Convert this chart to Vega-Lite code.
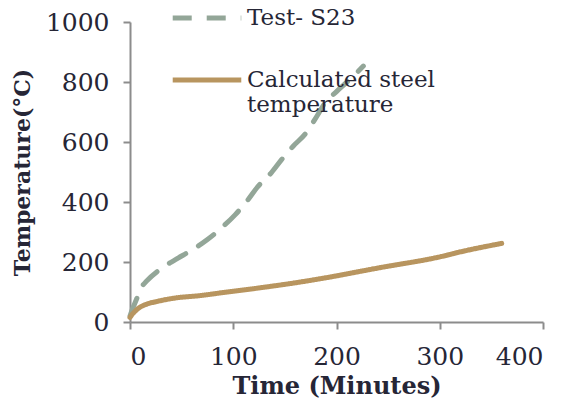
{
  "$schema": "https://vega.github.io/schema/vega-lite/v6.json",
  "width": 413,
  "height": 300,
  "autosize": {"type": "none"},
  "padding": {"left": 130, "top": 22, "right": 25, "bottom": 79},
  "background": "white",
  "config": {
    "font": "DejaVu Serif",
    "view": {"stroke": null},
    "axis": {
      "grid": false,
      "domainColor": "#8c8c8c",
      "domainWidth": 2,
      "tickColor": "#8c8c8c",
      "tickWidth": 2,
      "tickSize": 7,
      "labelFont": "DejaVu Serif",
      "labelFontSize": 25,
      "labelColor": "#262636",
      "titleFont": "DejaVu Serif",
      "titleFontSize": 24,
      "titleFontWeight": "bold",
      "titleColor": "#262636"
    },
    "legend": {
      "labelFont": "DejaVu Serif",
      "labelFontSize": 23,
      "labelColor": "#262636",
      "labelLimit": 400
    }
  },
  "data": {
    "values": [
      {"series": "Test- S23", "time": 0, "temp": 20},
      {"series": "Test- S23", "time": 2, "temp": 40},
      {"series": "Test- S23", "time": 5, "temp": 65},
      {"series": "Test- S23", "time": 8, "temp": 90},
      {"series": "Test- S23", "time": 11, "temp": 115},
      {"series": "Test- S23", "time": 16, "temp": 136},
      {"series": "Test- S23", "time": 29, "temp": 175},
      {"series": "Test- S23", "time": 44, "temp": 208},
      {"series": "Test- S23", "time": 60, "temp": 240},
      {"series": "Test- S23", "time": 75, "temp": 275},
      {"series": "Test- S23", "time": 89, "temp": 315},
      {"series": "Test- S23", "time": 102, "temp": 358},
      {"series": "Test- S23", "time": 113, "temp": 402},
      {"series": "Test- S23", "time": 124, "temp": 452},
      {"series": "Test- S23", "time": 137, "temp": 498},
      {"series": "Test- S23", "time": 147, "temp": 542},
      {"series": "Test- S23", "time": 158, "temp": 586},
      {"series": "Test- S23", "time": 170, "temp": 628},
      {"series": "Test- S23", "time": 181, "temp": 686},
      {"series": "Test- S23", "time": 189, "temp": 731},
      {"series": "Test- S23", "time": 200, "temp": 768},
      {"series": "Test- S23", "time": 215, "temp": 815},
      {"series": "Test- S23", "time": 226, "temp": 853},
      {"series": "Calculated steel temperature", "time": 0, "temp": 15},
      {"series": "Calculated steel temperature", "time": 2, "temp": 25},
      {"series": "Calculated steel temperature", "time": 5, "temp": 36},
      {"series": "Calculated steel temperature", "time": 10, "temp": 50},
      {"series": "Calculated steel temperature", "time": 15, "temp": 58},
      {"series": "Calculated steel temperature", "time": 27, "temp": 69},
      {"series": "Calculated steel temperature", "time": 44, "temp": 80},
      {"series": "Calculated steel temperature", "time": 68, "temp": 88},
      {"series": "Calculated steel temperature", "time": 92, "temp": 99},
      {"series": "Calculated steel temperature", "time": 126, "temp": 114},
      {"series": "Calculated steel temperature", "time": 155, "temp": 128},
      {"series": "Calculated steel temperature", "time": 184, "temp": 144},
      {"series": "Calculated steel temperature", "time": 242, "temp": 181},
      {"series": "Calculated steel temperature", "time": 300, "temp": 217},
      {"series": "Calculated steel temperature", "time": 323, "temp": 236},
      {"series": "Calculated steel temperature", "time": 360, "temp": 262}
    ]
  },
  "mark": {"type": "line", "strokeWidth": 5, "strokeCap": "round", "interpolate": "monotone"},
  "encoding": {
    "x": {
      "field": "time", "type": "quantitative",
      "scale": {"domain": [0, 400], "nice": false},
      "axis": {"values": [0, 100, 200, 300, 400], "format": "d", "title": "Time (Minutes)", "labelPadding": 15, "titlePadding": 5}
    },
    "y": {
      "field": "temp", "type": "quantitative",
      "scale": {"domain": [0, 1000], "nice": false},
      "axis": {"values": [0, 200, 400, 600, 800, 1000], "format": "d", "title": "Temperature(°C)", "titleFontSize": 22, "labelPadding": 14, "titlePadding": 11}
    },
    "color": {
      "field": "series", "type": "nominal",
      "scale": {"domain": ["Test- S23", "Calculated steel temperature"], "range": ["#93a698", "#b8955f"]},
      "legend": {
        "title": null,
        "orient": "none",
        "legendX": 40,
        "legendY": -41,
        "padding": 0,
        "symbolType": "stroke",
        "symbolSize": 4700,
        "symbolStrokeWidth": 5,
        "labelOffset": 3,
        "rowPadding": 13,
        "labelBaseline": "middle",
        "labelExpr": "datum.label == 'Calculated steel temperature' ? ['Calculated steel', 'temperature'] : datum.label"
      }
    },
    "strokeDash": {
      "field": "series", "type": "nominal",
      "scale": {"domain": ["Test- S23", "Calculated steel temperature"], "range": [[19, 15], [1, 0]]},
      "legend": {
        "title": null,
        "orient": "none",
        "legendX": 40,
        "legendY": -41,
        "padding": 0,
        "symbolType": "stroke",
        "symbolSize": 4700,
        "symbolStrokeWidth": 5,
        "labelOffset": 3,
        "rowPadding": 13,
        "labelBaseline": "middle",
        "labelExpr": "datum.label == 'Calculated steel temperature' ? ['Calculated steel', 'temperature'] : datum.label"
      }
    }
  }
}
